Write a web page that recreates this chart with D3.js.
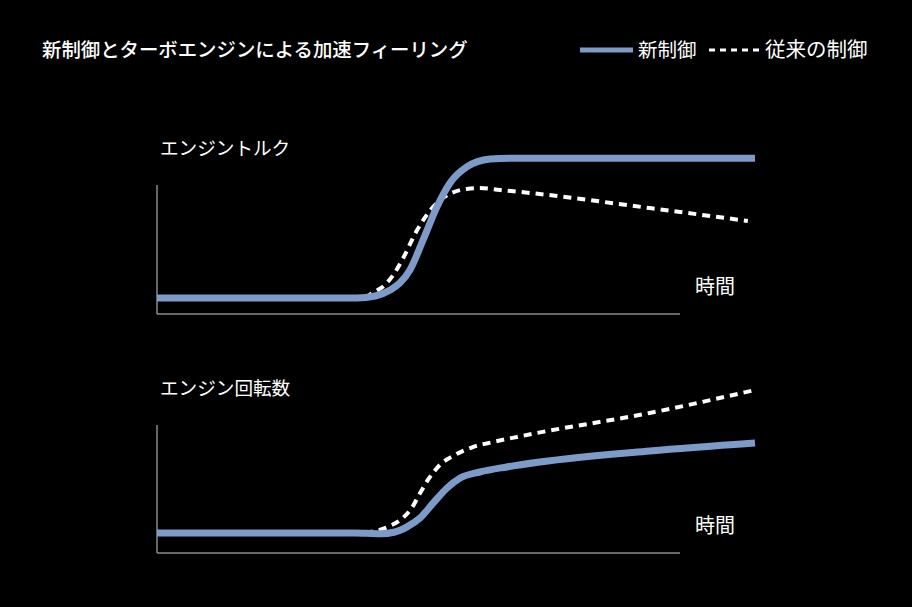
<!DOCTYPE html>
<html lang="ja">
<head>
    <meta charset="UTF-8">
    <title>新制御とターボエンジンによる加速フィーリング</title>
    <style>
        body { margin: 0; background: #000; }
        svg { display: block; font-family: "Noto Sans CJK JP", "Noto Sans", sans-serif; }
        .axis { stroke: #8a8a8a; stroke-width: 1.5px; }
        .solid { fill: none; stroke: #7d9bc8; stroke-width: 7px; stroke-linecap: butt; }
        .dashed { fill: none; stroke: #fff; stroke-width: 4px; stroke-dasharray: 8 6; }
        text { fill: #fff; }
    </style>
</head>
<body>
    <svg width="912" height="607"></svg>

    <script src="https://d3js.org/d3.v7.min.js"></script>
    <script>
        const width = 912, height = 607;

        // time 0..100, value 0..100 (relative units)
        const torqueNewT = [0, 33.4, 36.5, 39, 40.6, 42.3, 44.5, 46.8, 49, 51.8, 55.7, 59, 100];
        const torqueNewV = [10.4, 10.4, 11.7, 15.6, 20.1, 28.6, 48.1, 69.5, 85.1, 95.5, 100.6, 101.2, 101.2];
        const torqueOldT = [34.8, 36, 38.1, 39.5, 41, 43.5, 46.8, 49.3, 51.8, 54, 57.4, 62.4, 82.4, 98.8];
        const torqueOldV = [10.4, 13.6, 18.8, 25.3, 35.1, 54.5, 72.1, 78.6, 81.2, 81.8, 80.5, 78.6, 68.8, 60.4];

        const rpmNewT = [0, 33.1, 37.3, 39.8, 41.8, 44, 46.2, 48.5, 50.7, 54, 58.5, 64, 82.4, 100];
        const rpmNewV = [12.3, 12.3, 11.8, 12.9, 16, 21.5, 30.7, 39.9, 46, 49.7, 52.8, 55.8, 62.6, 67.5];
        const rpmOldT = [34.8, 38.6, 41.1, 42.6, 44, 45.3, 47.3, 49.8, 52.8, 56.2, 60.2, 63.5, 82.4, 100];
        const rpmOldV = [12.3, 16, 21.5, 27.6, 36.8, 44.8, 54, 60.1, 65, 68.1, 71.2, 73.6, 85.9, 100];

        const panelTitles = ["エンジントルク", "エンジン回転数"];
        const xLabel = "時間";
        const legendLabels = ["新制御", "従来の制御"];

        const svg = d3.select("svg")
            .attr("width", width)
            .attr("height", height);

        svg.append("rect").attr("width", width).attr("height", height).attr("fill", "#000");

        svg.append("text")
            .attr("x", 42).attr("y", 57)
            .attr("font-size", 19.4).attr("font-weight", 500)
            .text("新制御とターボエンジンによる加速フィーリング");

        // legend
        svg.append("line").attr("class", "solid")
            .attr("x1", 580).attr("x2", 633).attr("y1", 50).attr("y2", 50)
            .style("stroke-width", "5px");
        svg.append("text").attr("x", 638).attr("y", 57).attr("font-size", 19.5).text(legendLabels[0]);
        svg.append("line").attr("class", "dashed")
            .attr("x1", 709).attr("x2", 760).attr("y1", 50).attr("y2", 50)
            .style("stroke-width", "3px").style("stroke-dasharray", "6 5");
        svg.append("text").attr("x", 765).attr("y", 57).attr("font-size", 20.5).text(legendLabels[1]);

        const x = d3.scaleLinear().domain([0, 100]).range([157, 755]);

        const panels = [
            { title: panelTitles[0], top: 185, bottom: 314, y0: 314, y100: 160,
              series: [[torqueOldT, torqueOldV, "dashed"], [torqueNewT, torqueNewV, "solid"]] },
            { title: panelTitles[1], top: 425, bottom: 553, y0: 553, y100: 390,
              series: [[rpmOldT, rpmOldV, "dashed"], [rpmNewT, rpmNewV, "solid"]] }
        ];

        panels.forEach(p => {
            const y = d3.scaleLinear().domain([0, 100]).range([p.y0, p.y100]);
            const g = svg.append("g");

            g.append("line").attr("class", "axis")
                .attr("x1", 157).attr("x2", 157).attr("y1", p.top).attr("y2", p.bottom);
            g.append("line").attr("class", "axis")
                .attr("x1", 157).attr("x2", 680).attr("y1", p.bottom).attr("y2", p.bottom);

            g.append("text").attr("x", 160).attr("y", p.top - 30)
                .attr("font-size", 18.6).text(p.title);
            g.append("text").attr("x", 695).attr("y", p.bottom - 20)
                .attr("font-size", 20).text(xLabel);

            const line = d3.line()
                .x(d => x(d[0]))
                .y(d => y(d[1]))
                .curve(d3.curveMonotoneX);

            p.series.forEach(([ts, vs, cls]) => {
                g.append("path")
                    .datum(ts.map((t, i) => [t, vs[i]]))
                    .attr("class", cls)
                    .attr("d", line);
            });
        });
    </script>
</body>
</html>
